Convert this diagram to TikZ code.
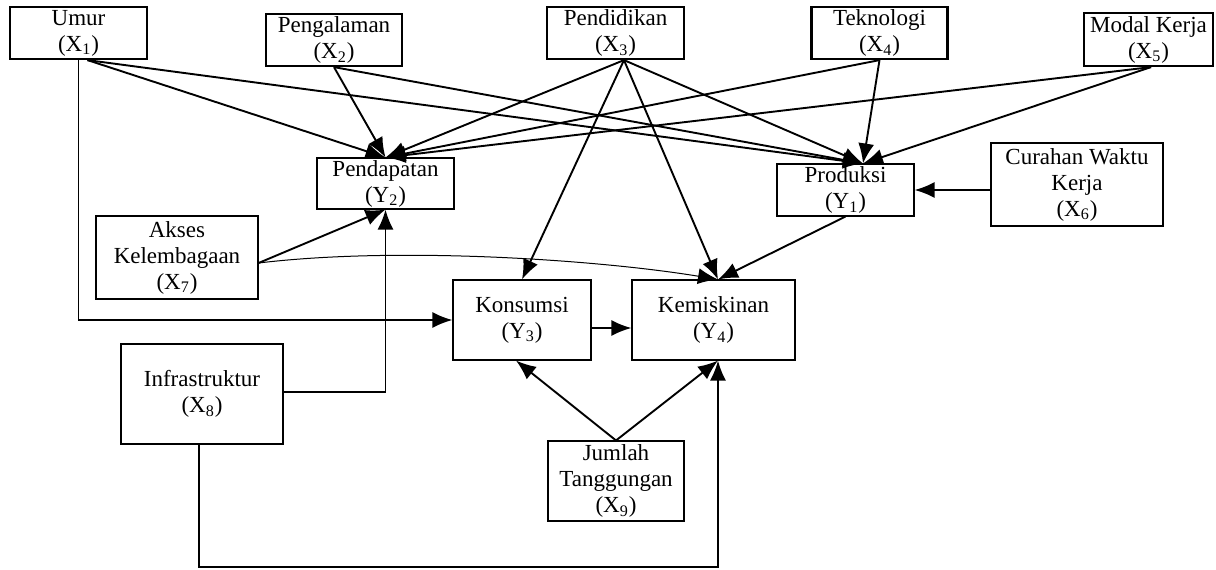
\documentclass[tikz,border=0pt]{standalone}
\usepackage{fontspec}
\setmainfont{Liberation Serif}
\usetikzlibrary{arrows.meta}

\begin{document}
\begin{tikzpicture}[x=0.5pt, y=-0.5pt,
		font=\fontsize{11.5}{13}\selectfont,
		topbox/.style={draw, line width=1.1pt, align=center, inner sep=0pt},
		varbox/.style={draw, line width=0.55pt, align=center, inner sep=0pt},
		arr/.style={-{Latex[length=10pt, width=8pt]}, line width=0.95pt},
		thinarr/.style={-{Latex[length=10pt, width=8pt]}, line width=0.5pt}]
			\useasboundingbox (0,0) rectangle (1216,569);
			
			\node[topbox, minimum width=68.5pt, minimum height=26pt] (X1) at (78.5,33) {Umur\\(X\textsubscript{1})};
			\node[topbox, minimum width=68pt, minimum height=26pt] (X2) at (334,40) {Pengalaman\\(X\textsubscript{2})};
			\node[topbox, minimum width=68.5pt, minimum height=26pt] (X3) at (615.5,33) {Pendidikan\\(X\textsubscript{3})};
			\node[topbox, minimum width=68pt, minimum height=26pt] (X4) at (879.5,33) {Teknologi\\(X\textsubscript{4})};
			\node[topbox, minimum width=64.5pt, minimum height=26.5pt] (X5) at (1148.5,39.5) {Modal Kerja\\(X\textsubscript{5})};
			
			\node[varbox, minimum width=68.5pt, minimum height=25.5pt] (Y2) at (385.5,183.5) {Pendapatan\\(Y\textsubscript{2})};
			\node[varbox, minimum width=68.5pt, minimum height=26pt] (Y1) at (845.5,190) {Produksi\\(Y\textsubscript{1})};
			\node[varbox, minimum width=86pt, minimum height=41.5pt] (X6) at (1077,184.5) {Curahan Waktu\\Kerja\\(X\textsubscript{6})};
			\node[varbox, minimum width=81pt, minimum height=41.5pt] (X7) at (177,257.5) {Akses\\Kelembagaan\\(X\textsubscript{7})};
			\node[varbox, minimum width=81pt, minimum height=50pt] (X8) at (202,394) {Infrastruktur\\(X\textsubscript{8})};
			\node[varbox, minimum width=69pt, minimum height=40pt] (Y3) at (522,320) {Konsumsi\\(Y\textsubscript{3})};
			\node[varbox, minimum width=81.5pt, minimum height=40pt] (Y4) at (713.5,320) {Kemiskinan\\(Y\textsubscript{4})};
			\node[varbox, minimum width=68pt, minimum height=40pt] (X9) at (616,481) {Jumlah\\Tanggungan\\(X\textsubscript{9})};
			
			\coordinate (Y1in) at ([xshift=8.75pt]Y1.north);
			\coordinate (Y4in) at ([xshift=2.25pt]Y4.north);
			\coordinate (Y4bot) at ([xshift=2.25pt]Y4.south);
			\coordinate (base) at (718,567);
			
			% umur, pengalaman
			\draw[arr] ([xshift=4.5pt]X1.south) -- (Y2.north);
			\draw[arr] ([xshift=4.5pt]X1.south) -- (Y1in);
			\draw[arr] (X1.south) |- (Y3.west);
			\draw[arr] (X2.south) -- (Y2.north);
			\draw[arr] (X2.south) -- (Y1in);
			
			% pendidikan
			\draw[arr] ([xshift=4.25pt]X3.south) -- (Y2.north);
			\draw[arr] ([xshift=4.25pt]X3.south) -- (Y1in);
			\draw[arr] ([xshift=4.25pt]X3.south) -- (Y3.north);
			\draw[arr] ([xshift=4.25pt]X3.south) -- (Y4in);
			
			% teknologi, modal kerja
			\draw[arr] (X4.south) -- (Y2.north);
			\draw[arr] (X4.south) -- (Y1in);
			\draw[arr] ([xshift=1.25pt]X5.south) -- (Y2.north);
			\draw[arr] ([xshift=1.25pt]X5.south) -- (Y1in);
			
			\draw[arr] (X6.west |- Y1.east) -- (Y1.east);
			\draw[arr] (Y1.south) -- (Y4in);
			
			% akses, infrastruktur
			\draw[arr] ([yshift=-2.75pt]X7.east) -- (Y2.south);
			\draw[thinarr] ([yshift=-2.75pt]X7.east) .. controls (400,246) and (600,260) .. (Y4in);
			\draw[arr] ([yshift=1pt]X8.east) -| (Y2.south);
			\draw[arr] ([xshift=-1.5pt]X8.south) |- (base) -- (Y4bot);
			
			\draw[arr] ([yshift=-4pt]Y3.east) -- ([yshift=-4pt]Y4.west);
			\draw[arr] (X9.north) -- ([xshift=-3pt]Y3.south);
			\draw[arr] (X9.north) -- (Y4bot);
			
		\end{tikzpicture}
\end{document}
